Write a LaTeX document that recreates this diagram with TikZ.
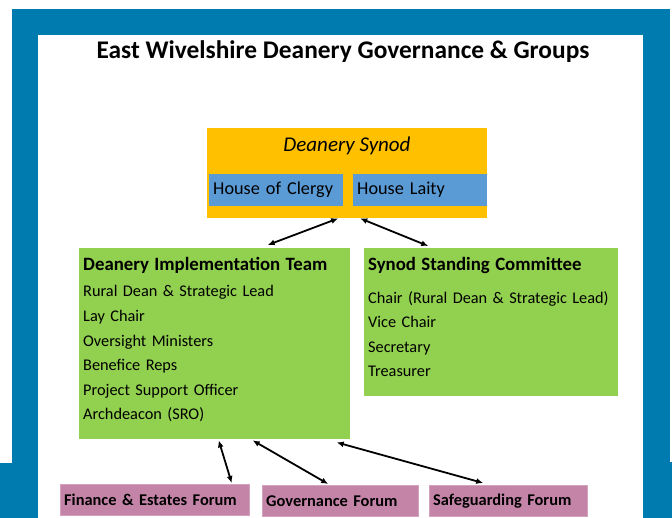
\documentclass[tikz,border=0pt]{standalone}
\usepackage{fontspec}
\setmainfont{Carlito}
\usetikzlibrary{arrows.meta}

\definecolor{frameblue}{RGB}{0,123,175}
\definecolor{synodorange}{RGB}{255,192,0}
\definecolor{houseblue}{RGB}{91,155,213}
\definecolor{teamgreen}{RGB}{146,208,80}
\definecolor{forumpink}{RGB}{196,132,168}

\begin{document}
\begin{tikzpicture}[
    x=1pt, y=-1pt,
    % Styles
    house/.style={fill=houseblue, anchor=north west, minimum height=32pt, text width=126pt, inner xsep=4pt, align=left, font=\fontsize{18.2}{22}\selectfont},
    group/.style={fill=teamgreen, anchor=north west, inner xsep=4pt, align=left, font=\fontsize{16.3}{24.6}\selectfont},
    forum/.style={fill=forumpink, draw=forumpink!75!white, anchor=north west, minimum height=31pt, inner xsep=4pt, align=left, font=\bfseries\fontsize{16.4}{19}\selectfont},
    link/.style={{Latex[length=7pt,width=6pt]}-{Latex[length=7pt,width=6pt]}, line width=1.8pt},
]

% Page and frame
\useasboundingbox (0,0) rectangle (672,518);
\fill[white] (0,0) rectangle (672,518);
\fill[frameblue] (12,9) rectangle (670,518);
\fill[frameblue] (0,463) rectangle (38,518);
\fill[frameblue] (643,462) rectangle (672,518);
\fill[white] (38,35) rectangle (643,518);

% Title
\node[font=\bfseries\fontsize{25.4}{30}\selectfont] (title) at (343,52) {East Wivelshire Deanery Governance \& Groups};

% Deanery Synod with its two houses
\node[fill=synodorange, anchor=north west, minimum width=280pt, minimum height=90pt] (synod) at (207,128) {};
\node[font=\itshape\fontsize{21}{25}\selectfont] (synodname) at (347,146) {Deanery Synod};
\node[house] (clergy) at (209,174) {House of Clergy};
\node[house] (laity) at (353,174) {House Laity};

% Teams (the rule deepens the last line so the list sits higher)
\node[group, text width=263pt, minimum height=191pt] (dit) at (79,248) {{\bfseries\fontsize{18.8}{24.6}\selectfont Deanery Implementation Team}\\[1.5pt]
Rural Dean \& Strategic Lead\\
Lay Chair\\
Oversight Ministers\\
Benefice Reps\\
Project Support Officer\\
Archdeacon (SRO)\rule[-10pt]{0pt}{10pt}};
\node[group, text width=246pt, minimum height=148pt] (ssc) at (364,248) {{\bfseries\fontsize{18.8}{24.6}\selectfont Synod Standing Committee}\\[8pt]
Chair (Rural Dean \& Strategic Lead)\\
Vice Chair\\
Secretary\\
Treasurer\rule[-10pt]{0pt}{10pt}};

% Forums
\node[forum, text width=181pt] (finance) at (60,484) {Finance \& Estates Forum};
\node[forum, text width=148pt] (governance) at (262,485) {Governance Forum};
\node[forum, text width=150pt] (safeguarding) at (429,485) {Safeguarding Forum};

% Links
\draw[link] ([xshift=-9pt]synod.south) -- ([xshift=53pt, yshift=3pt]dit.north);
\draw[link] ([xshift=13pt]synod.south) -- ([xshift=-63pt, yshift=2pt]ssc.north);
\draw[link] ([xshift=4pt, yshift=-1pt]dit.south) -- ([xshift=77pt, yshift=1pt]finance.north);
\draw[link] ([xshift=38pt, yshift=-1pt]dit.south) -- ([xshift=-12pt, yshift=1pt]governance.north);
\draw[link] ([xshift=122pt, yshift=-3pt]dit.south) -- ([xshift=-25pt, yshift=2pt]safeguarding.north);

\end{tikzpicture}
\end{document}
